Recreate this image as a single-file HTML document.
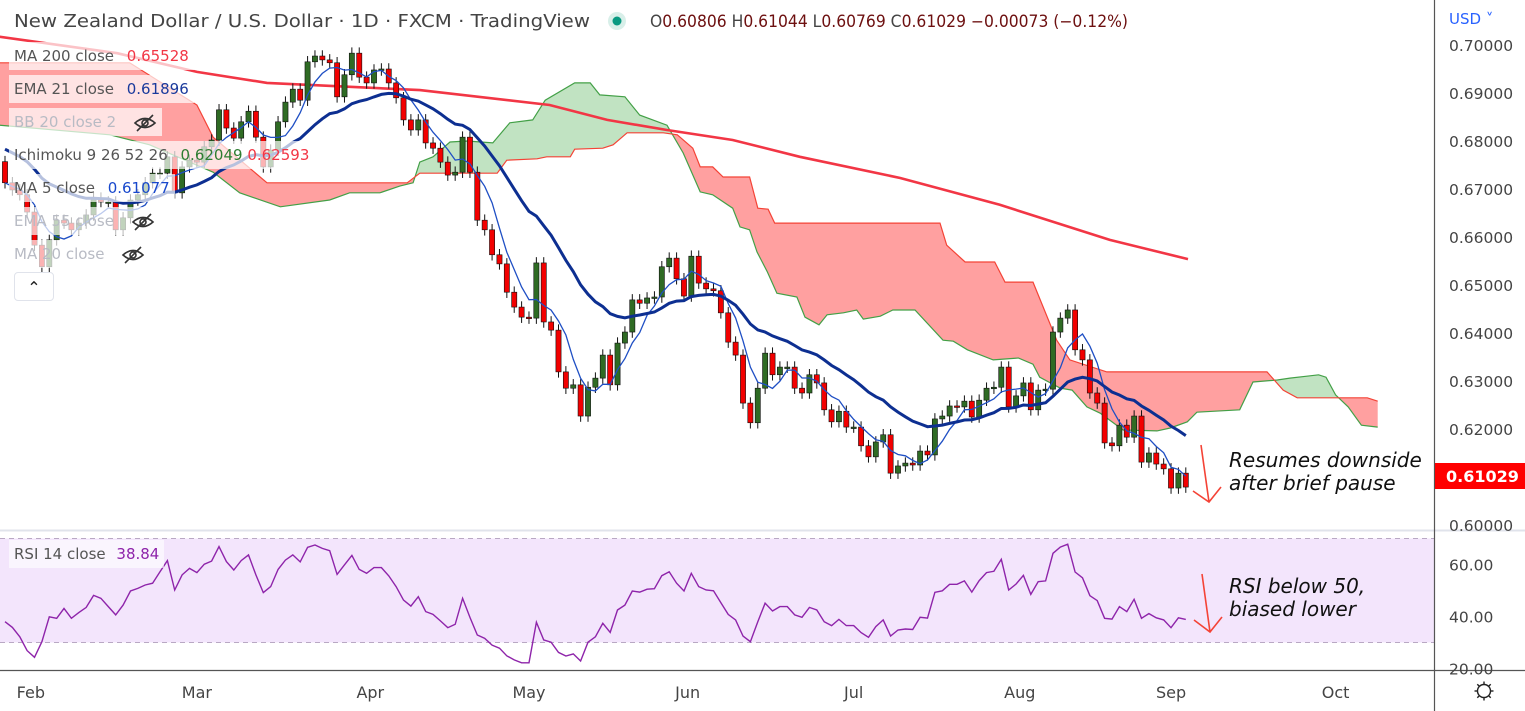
<!DOCTYPE html>
<html><head><meta charset="utf-8">
<style>
body{margin:0;width:1525px;height:711px;overflow:hidden;background:#fff;font-family:"DejaVu Sans","Liberation Sans",sans-serif;}
#wrap{position:relative;width:1525px;height:711px;}
svg{position:absolute;left:0;top:0;}
.lg{position:absolute;left:9px;height:28px;line-height:28px;font-size:15px;color:#555;background:rgba(255,255,255,0.7);padding:0 5px;white-space:nowrap;}
.lg .v{margin-left:8px;}
.fade{color:#b8bbc4;}
.eye{display:inline-block;width:24px;height:18px;vertical-align:middle;margin-left:12px;}
</style></head>
<body><div id="wrap">
<svg id="chart" width="1525" height="711"></svg>

<div class="lg" style="top:42px">MA 200 close <span class="v" style="color:#f23645">0.65528</span></div>
<div class="lg" style="top:75px">EMA 21 close <span class="v" style="color:#1a3a9c">0.61896</span></div>
<div class="lg fade" style="top:108px">BB 20 close 2 <svg class="eye" style="position:static" viewBox="0 0 24 18"><path d="M2 9 Q12 0 22 9 Q12 18 2 9Z" fill="none" stroke="#333" stroke-width="1.6"/><circle cx="12" cy="9" r="3" fill="none" stroke="#333" stroke-width="1.6"/><line x1="4" y1="17" x2="20" y2="1" stroke="#333" stroke-width="1.6"/></svg></div>
<div class="lg" style="top:141px">Ichimoku 9 26 52 26 <span class="v" style="color:#2e7d32">0.62049</span> <span style="color:#f23645">0.62593</span></div>
<div class="lg" style="top:174px">MA 5 close <span class="v" style="color:#1848cc">0.61077</span></div>
<div class="lg fade" style="top:207px">EMA 55 close <svg class="eye" style="position:static" viewBox="0 0 24 18"><path d="M2 9 Q12 0 22 9 Q12 18 2 9Z" fill="none" stroke="#333" stroke-width="1.6"/><circle cx="12" cy="9" r="3" fill="none" stroke="#333" stroke-width="1.6"/><line x1="4" y1="17" x2="20" y2="1" stroke="#333" stroke-width="1.6"/></svg></div>
<div class="lg fade" style="top:240px">MA 20 close <svg class="eye" style="position:static" viewBox="0 0 24 18"><path d="M2 9 Q12 0 22 9 Q12 18 2 9Z" fill="none" stroke="#333" stroke-width="1.6"/><circle cx="12" cy="9" r="3" fill="none" stroke="#333" stroke-width="1.6"/><line x1="4" y1="17" x2="20" y2="1" stroke="#333" stroke-width="1.6"/></svg></div>
<div style="position:absolute;left:14px;top:272px;width:38px;height:27px;border:1px solid #e0e3eb;border-radius:4px;background:#fff;text-align:center;line-height:30px;font-size:16px;color:#222">&#8963;</div>
<div style="position:absolute;left:9px;top:540px;height:28px;line-height:28px;padding:0 5px;font-size:15px;color:#555;background:rgba(255,255,255,0.6)">RSI 14 close <span style="color:#8e24aa;margin-left:6px">38.84</span></div>
</div>
<script>
const closes=[0.6713,0.6698,0.6688,0.6652,0.6583,0.6538,0.6594,0.6635,0.6629,0.6615,0.6629,0.6646,0.6681,0.6673,0.6673,0.6615,0.6640,0.6677,0.6688,0.6713,0.6733,0.6733,0.6767,0.6692,0.6746,0.6760,0.6756,0.6788,0.6802,0.6865,0.6827,0.6806,0.6840,0.6862,0.6808,0.6746,0.6781,0.6840,0.6881,0.6908,0.6885,0.6965,0.6977,0.6969,0.6963,0.6892,0.6938,0.6983,0.6933,0.6921,0.6948,0.6950,0.6921,0.6890,0.6844,0.6823,
0.6844,0.6796,0.6785,0.6756,0.6729,0.6735,0.6808,0.6735,0.6635,0.6615,0.6563,0.6544,0.6485,0.6454,0.6433,0.6431,0.6546,0.6423,0.6406,0.6319,0.6285,0.6292,0.6227,0.6287,0.6306,0.6354,0.6292,0.6379,0.6402,0.6469,0.6462,0.6473,0.6475,0.6538,0.6556,0.6513,0.6477,0.6560,0.6504,0.6492,0.6488,0.6442,0.6381,0.6354,0.6254,0.6213,0.6285,0.6358,0.6313,0.6329,0.6329,0.6285,
0.6275,0.6313,0.6296,0.6240,0.6215,0.6237,0.6204,0.6204,0.6165,0.6142,0.6173,0.6188,0.6108,0.6123,0.6129,0.6125,0.6154,0.6146,0.6221,0.6227,0.6248,0.6246,0.6258,0.6225,0.6260,0.6285,0.6287,0.6329,0.6246,0.6269,0.6296,0.6240,0.6281,0.6283,0.6402,0.6431,0.6448,0.6365,0.6344,0.6275,0.6254,0.6171,0.6165,0.6208,0.6183,0.6227,0.6131,0.6150,0.6127,0.6117,0.6077,0.6108,0.6079];
const firstOpen=0.6757;
const rsiValues=[38,35.8,32.2,26.9,24.3,30.3,39.9,39.3,43.1,39.3,41.5,43.5,48.1,47,43.8,40.6,44.4,49.8,50.8,52.1,52.8,57.2,61.5,50.2,56,58.5,56.9,60.1,61.3,66.9,61.1,57.9,61.5,63.7,56,49.2,51.5,58.1,61.7,63.7,61,66.6,67.5,66.2,65.3,56.2,59.9,63.5,58.1,56.6,58.8,58.8,55.6,51.5,46.3,44,47.6,41.9,40.8,38.3,35.7,37,47,39.7,32.9,31.6,29,27.8,24.9,23.3,22.2,22.2,37.8,31,30.1,26.2,24.8,25.6,22.9,30.1,32.2,37.4,33.9,42.5,
44.4,49.8,49.4,50.5,50.7,55.7,57.2,52.8,49.8,56.6,51.5,50.2,49.9,45.3,40.8,38.7,32.5,30.3,38,45.1,42.1,43.8,43.8,40.6,39.7,43.5,42.5,38,36.5,38.9,36.5,36.5,33.8,32,36.1,38.7,32.5,34.8,35.2,35,39.7,39.4,49.3,49.9,52.4,52.4,53.7,49.4,53.8,56.9,57.4,62,50.2,52.5,55.8,48.5,53.4,53.7,64.3,66.7,67.8,57.1,54.9,48,46.1,39.3,39,43.8,41.9,46.6,39.3,41.1,39.5,38.7,35.7,39.5,38.9];
const ma200Bars=[-0.7,15.2,26.0,35.5,56.2,73.8,81.6,89.7,98.6,107.7,121.3,134.8,149.7,160.3];
const ma200Vals=[0.7017,0.6983,0.6944,0.6921,0.6906,0.6875,0.6844,0.6823,0.6802,0.6767,0.6723,0.6667,0.6594,0.6554];
const spanBBars=[-0.7,16.9,26.0,28.2,35.5,54.5,56.2,66.7,68.0,72.1,73.4,76.6,77.2,81.0,82.4,84.3,89.2,91.1,93.2,94.2,95.9,97.3,100.9,102.0,103.4,104.3,126.7,127.6,130.1,134.1,135.5,139.3,142.5,144.3,149.3,171.0,173.2,175.1,184.6,186.0];
const spanBVals=[0.6963,0.6963,0.6875,0.6808,0.6713,0.6713,0.6733,0.6733,0.6760,0.6763,0.6767,0.6767,0.6783,0.6785,0.6792,0.6817,0.6817,0.6813,0.6785,0.6746,0.6746,0.6725,0.6725,0.6660,0.6658,0.6629,0.6629,0.6583,0.6548,0.6548,0.6506,0.6506,0.6385,0.6344,0.6319,0.6319,0.6281,0.6265,0.6265,0.6258];
const spanABars=[-0.7,14.2,19.6,28.2,31.8,37.3,44.0,46.7,50.8,53.5,55.3,56.2,58.0,60.3,62.6,66.1,68.4,71.5,73.2,77.2,79.3,80.6,84.0,86.0,89.7,91.9,94.2,95.9,98.6,99.6,100.9,101.9,103.3,104.6,107.3,108.4,110.3,111.4,113.6,115.4,116.3,118.6,120.3,123.3,127.1,128.5,130.4,133.9,137.3,139.3,140.2,143.0,144.6,146.6,148.4,151.5,156.1,157.9,160.2,161.5,167.3,169.1,172.4,174.1,176.4,178.0,179.0,180.3,182.0,183.8,186.0];
const spanAVals=[0.6833,0.6813,0.6792,0.6735,0.6692,0.6663,0.6677,0.6692,0.6692,0.6706,0.6713,0.6756,0.6767,0.6798,0.6800,0.6796,0.6838,0.6844,0.6885,0.6921,0.6921,0.6896,0.6892,0.6854,0.6833,0.6775,0.6694,0.6688,0.6660,0.6621,0.6615,0.6569,0.6527,0.6483,0.6475,0.6433,0.6417,0.6438,0.6442,0.6448,0.6429,0.6435,0.6448,0.6448,0.6385,0.6383,0.6365,0.6344,0.6348,0.6335,0.6308,0.6285,0.6281,0.6246,0.6233,0.6198,0.6196,0.6202,0.6215,0.6235,0.6240,0.6298,0.6302,0.6306,0.6310,0.6313,0.6308,0.6271,0.6246,0.6208,0.6204];
const emaSeed=0.679;
const priceTicks=[0.70,0.69,0.68,0.67,0.66,0.65,0.64,0.63,0.62,0.60];
const rsiTicks=[60,40,20];
const monthLabels=["Feb","Mar","Apr","May","Jun","Jul","Aug","Sep","Oct"];
const monthBars=[3.5,26,49.5,71,92.5,115,137.5,158,180.3];

const NS="http://www.w3.org/2000/svg";
const svg=document.getElementById('chart');
const X=i=>5+i*7.38;
const Y=p=>45+(0.70-p)*4800;
const RY=r=>538.5+(70-r)*2.6;
function el(tag,attrs,parent){const e=document.createElementNS(NS,tag);for(const k in attrs)e.setAttribute(k,attrs[k]);(parent||svg).appendChild(e);return e;}
function interp(bars,vals,b){if(b<=bars[0])return vals[0];for(let k=1;k<bars.length;k++){if(b<=bars[k]){const t=(b-bars[k-1])/(bars[k]-bars[k-1]);return vals[k-1]+t*(vals[k]-vals[k-1]);}}return vals[vals.length-1];}

const defs=el('defs',{});
const cp=el('clipPath',{id:'pc'},defs);el('rect',{x:0,y:0,width:1434,height:530},cp);
const cr=el('clipPath',{id:'rc'},defs);el('rect',{x:0,y:531,width:1434,height:140},cr);
const gp=el('g',{'clip-path':'url(#pc)'});



const grid=[];for(let b=-1;b<=186;b+=0.25)grid.push(b);
let gTop=[],gBot=[],rTop=[],rBot=[];
grid.forEach(b=>{const a=interp(spanABars,spanAVals,b),bb=interp(spanBBars,spanBVals,b);const x=X(b);
 gTop.push([x,Y(Math.max(a,bb))]);gBot.push([x,Y(bb)]);rTop.push([x,Y(bb)]);rBot.push([x,Y(Math.min(a,bb))]);});
function poly(top,bot){return top.concat(bot.slice().reverse()).map(p=>p[0].toFixed(1)+','+p[1].toFixed(1)).join(' ');}
const cg=el('polygon',{points:poly(gTop,gBot),fill:'rgba(76,175,80,0.35)'},gp);


const crd=el('polygon',{points:poly(rTop,rBot),fill:'rgba(255,82,82,0.55)'},gp);


function line(bars,vals,attrs,name){const pts=bars.map((b,k)=>X(b).toFixed(1)+','+Y(vals[k]).toFixed(1)).join(' ');const l=el('polyline',Object.assign({points:pts,fill:'none'},attrs),gp);return l;}
line(spanABars,spanAVals,{stroke:'#43a047','stroke-width':1.2},'ichimoku-span-a');
line(spanBBars,spanBVals,{stroke:'#f44336','stroke-width':1.2},'ichimoku-span-b');
line(ma200Bars,ma200Vals,{stroke:'#f23645','stroke-width':2.6},'ma200-line');

const opens=closes.map((c,i)=>i===0?firstOpen:closes[i-1]);
const WICK=0.0012;
closes.forEach((c,i)=>{const o=opens[i];const up=c>=o;const x=X(i);
 const g=el('g',{},gp);
 
 
 el('line',{x1:x,x2:x,y1:Y(Math.max(o,c)+WICK),y2:Y(Math.min(o,c)-WICK),stroke:'#111','stroke-width':1},g);
 const top=Y(Math.max(o,c)),h=Math.max(1.5,Y(Math.min(o,c))-top);
 el('rect',{x:x-2.6,y:top,width:5.2,height:h,fill:up?'#2f6b24':'#f20000',stroke:'#111','stroke-width':0.6},g);
});

const ma5=closes.map((c,i)=>{const s=closes.slice(Math.max(0,i-4),i+1);return s.reduce((a,b)=>a+b,0)/s.length;});
let e=emaSeed;const ema=closes.map(c=>(e=e+(c-e)*2/22));
const idx=closes.map((c,i)=>i);
line(idx,ma5,{stroke:'#1f4fc4','stroke-width':1.3},'ma5-line');
line(idx,ema,{stroke:'#0d2f91','stroke-width':3},'ema21-line');

const gr=el('g',{'clip-path':'url(#rc)'});


el('rect',{x:0,y:RY(70),width:1434,height:RY(30)-RY(70),fill:'#f3e5fc'},gr);
[70,30].forEach(v=>el('line',{x1:0,x2:1434,y1:RY(v),y2:RY(v),stroke:'#b9a8c4','stroke-dasharray':'5,4'},gr));
const rl=el('polyline',{points:rsiValues.map((r,i)=>X(i).toFixed(1)+','+RY(r).toFixed(1)).join(' '),fill:'none',stroke:'#8e24aa','stroke-width':1.4},gr);



el('line',{x1:0,x2:1525,y1:530.5,y2:530.5,stroke:'#e0e3eb','stroke-width':2});
el('line',{x1:0,x2:1525,y1:670.5,y2:670.5,stroke:'#555','stroke-width':1.2});
el('line',{x1:1434.5,x2:1434.5,y1:0,y2:711,stroke:'#555','stroke-width':1.2});

priceTicks.forEach(p=>{const t=el('text',{x:1449,y:Y(p)+6,'font-size':15.5,fill:'#444'});t.textContent=p.toFixed(5);
 
 });
rsiTicks.forEach(r=>{const t=el('text',{x:1449,y:RY(r)+6,'font-size':15.5,fill:'#444'});t.textContent=r.toFixed(2);
 
 });
monthLabels.forEach((m,k)=>{const t=el('text',{x:X(monthBars[k]),y:698,'font-size':16,fill:'#444','text-anchor':'middle'});t.textContent=m;
 
 });
const usd=el('text',{x:1449,y:24,'font-size':15,fill:'#2962ff'});usd.textContent='USD \u02C5';


const pl=el('rect',{x:1435,y:463,width:90,height:26,fill:'#ff0000'});


const plt=el('text',{x:1446,y:482,'font-size':16,'font-weight':'bold',fill:'#fff'});plt.textContent='0.61029';


const gear=el('g',{transform:'translate(1484,691)'});


el('circle',{cx:0,cy:0,r:6.5,fill:'none',stroke:'#222','stroke-width':1.4},gear);
for(let a=0;a<8;a++){const r=a*Math.PI/4;el('line',{x1:7*Math.cos(r),y1:7*Math.sin(r),x2:9.5*Math.cos(r),y2:9.5*Math.sin(r),stroke:'#222','stroke-width':1.4},gear);}

const h=el('text',{x:14,y:27,'font-size':18,fill:'#444',textLength:576,lengthAdjust:'spacingAndGlyphs'});h.textContent='New Zealand Dollar / U.S. Dollar \u00B7 1D \u00B7 FXCM \u00B7 TradingView';


el('circle',{cx:617,cy:21,r:9,fill:'#d8efe9'});
const dot=el('circle',{cx:617,cy:21,r:4.5,fill:'#089981'});


const ohlc=el('text',{x:650,y:27,'font-size':16.5,fill:'#444',textLength:478,lengthAdjust:'spacingAndGlyphs'});


[['O',''],['0.60806','v'],[' H',''],['0.61044','v'],[' L',''],['0.60769','v'],[' C',''],['0.61029','v'],['  \u22120.00073 (\u22120.12%)','v']].forEach(([s,c])=>{const ts=el('tspan',{fill:c?'#6d1010':'#444'},ohlc);ts.textContent=s;});

function arrow(x1,y1,x2,y2,lx,ly,rx,ry,name){const g=el('g',{stroke:'#f44336','stroke-width':1.6,fill:'none'});
 
 
 el('line',{x1,y1,x2,y2},g);el('polyline',{points:`${lx},${ly} ${x2},${y2} ${rx},${ry}`},g);}
arrow(1201,445,1209,502,1193,491,1221,487,'price-annotation-arrow');
arrow(1202,574,1210,632,1194,620,1222,617,'rsi-annotation-arrow');
function note(lines,y0,name){const t=el('text',{x:1229,y:y0,'font-size':20,'font-style':'italic',fill:'#111'});
 
 
 lines.forEach((s,k)=>{const ts=el('tspan',{x:1229,dy:k?23:0},t);ts.textContent=s;});}
note(['Resumes downside','after brief pause'],467,'price-annotation-text');
note(['RSI below 50,','biased lower'],593,'rsi-annotation-text');
</script>
</body></html>
